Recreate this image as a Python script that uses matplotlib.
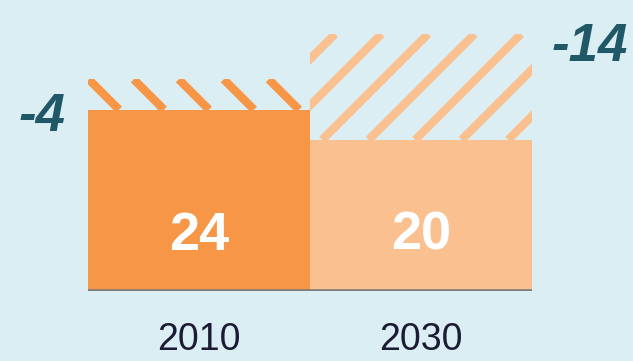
import numpy as np
import matplotlib
matplotlib.use("Agg")
import matplotlib.pyplot as plt

# emissions now vs. later, plus the cut that is still to come
years = ["2010", "2030"]
base_values = [24, 20]
cut_values = [4, 14]
cut_labels = ["-4", "-14"]

bg = "#dbeef3"
bar_colors = ["#f79646", "#fac090"]
stripe_dirs = [-1, 1]          # -1 = "\" stripes, 1 = "/" stripes
teal = "#215868"

plt.rcParams["font.family"] = ["Liberation Sans", "DejaVu Sans"]

fig = plt.figure(figsize=(6.33, 3.61), dpi=100, facecolor=bg)
ax = fig.add_axes([88 / 633, 70 / 361, 444 / 633, 291 / 361])
ax.set_facecolor(bg)
ax.set_xlim(-0.5, 1.5)
ax.set_ylim(0, 38.5)

x = np.arange(len(years))
base = ax.bar(x, base_values, width=1.0, color=bar_colors, linewidth=0, zorder=2)
cut = ax.bar(x, cut_values, bottom=base_values, width=1.0, color=bg,
             linewidth=0, zorder=2)


def stripe(patch, color, direction, spacing=46, phase=0, lw=6.0):
    # diagonal stripes in pixel space, clipped to the bar segment
    (x0, y0), (x1, y1) = ax.transData.transform(
        [(patch.get_x(), patch.get_y()),
         (patch.get_x() + patch.get_width(), patch.get_y() + patch.get_height())])
    h = y1 - y0
    for s in np.arange(x0 - h - spacing + phase, x1 + h + spacing, spacing):
        if direction > 0:
            xs, ys = [s, s + h], [y0, y1]
        else:
            xs, ys = [s, s + h], [y1, y0]
        ln = ax.plot(xs, ys, color=color, lw=lw, transform=None,
                     solid_capstyle="butt", zorder=3)[0]
        ln.set_clip_path(patch)


stripe(cut[0], bar_colors[0], stripe_dirs[0], spacing=45, phase=31)
stripe(cut[1], bar_colors[1], stripe_dirs[1], spacing=46.5, phase=25)

ax.axhline(0, color="#7c7c7c", lw=2.6, zorder=4)

# values inside the bars
for xi, v in zip(x, base_values):
    ax.annotate(str(v), xy=(xi, 0), xytext=(0, 41), textcoords="offset pixels",
                ha="center", va="baseline", color="white", fontsize=39,
                fontweight="bold", zorder=5)

# reduction labels beside the hatched parts
tops = [b + c for b, c in zip(base_values, cut_values)]
ax.annotate(cut_labels[0], xy=(-0.5, tops[0]), xytext=(-22, -52),
            textcoords="offset pixels", ha="right", va="baseline",
            color=teal, fontsize=38, fontweight="bold", fontstyle="italic",
            annotation_clip=False)
ax.annotate(cut_labels[1], xy=(1.5, tops[1]), xytext=(20, -27),
            textcoords="offset pixels", ha="left", va="baseline",
            color=teal, fontsize=38, fontweight="bold", fontstyle="italic",
            annotation_clip=False)

ax.set_xticks(x)
ax.set_xticklabels(years, fontsize=27, color="#1b1b33")
ax.tick_params(axis="x", length=0, pad=22)
ax.set_yticks([])
for sp in ax.spines.values():
    sp.set_visible(False)

fig.savefig("out.png", dpi=100, facecolor=bg)
